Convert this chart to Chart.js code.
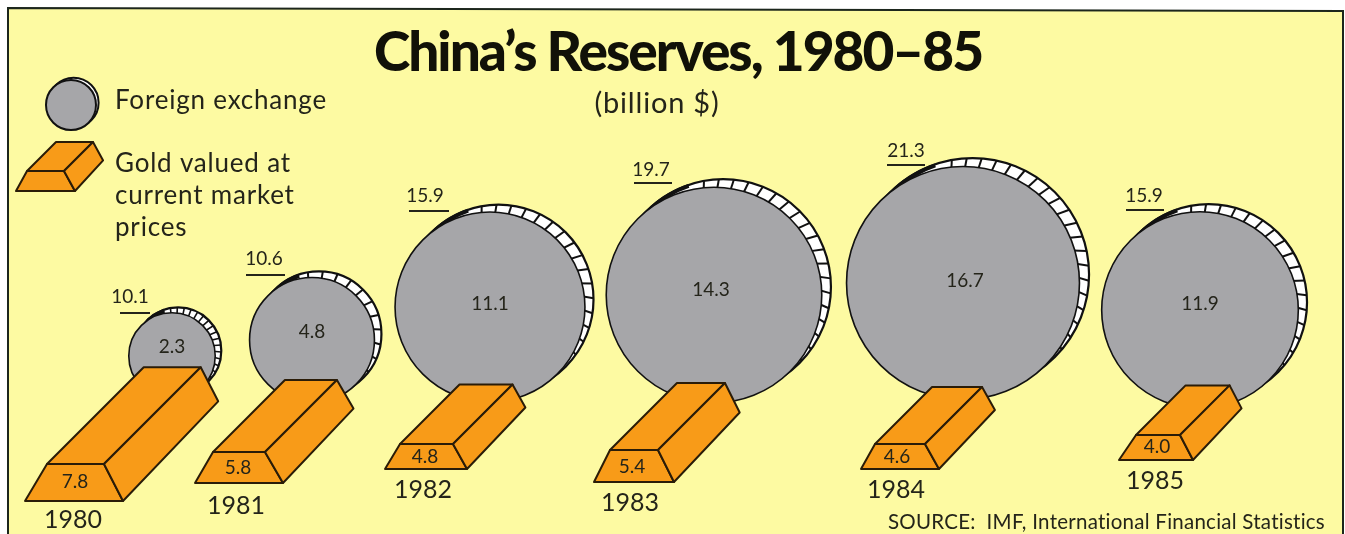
<!DOCTYPE html>
<html>
<head>
<meta charset="utf-8">
<title>China's Reserves, 1980-85</title>
<script src="https://cdn.jsdelivr.net/npm/chart.js@4"></script>
<style>
  html, body { margin: 0; padding: 0; background: #fff; }
  canvas { display: block; }
</style>
</head>
<body>
<canvas id="reserves" width="1345" height="534"></canvas>
<script>
const years = ['1980', '1981', '1982', '1983', '1984', '1985'];
const foreignExchange = [2.3, 4.8, 11.1, 14.3, 16.7, 11.9];
const gold = [7.8, 5.8, 4.8, 5.4, 4.6, 4.0];
const totals = [10.1, 10.6, 15.9, 19.7, 21.3, 15.9];

// where each year's coin and ingot sit on the page
const coinX = [172, 312, 490, 714, 963, 1200];
const coinY = [356, 340, 307, 295, 283, 310];
const barX = [47, 213, 400, 610, 875, 1136];
const barY = [464, 452, 444, 450, 444, 435];

// ingot front face: inset of top edge, top width, bottom width, height
const barInset = [22, 18, 15, 16, 14, 17];
const barTop = [57, 52, 53, 48, 50, 44];
const barBottom = [98, 88, 82, 80, 78, 74];
const barHeight = [37, 31, 25, 32, 25, 25];

const totalPos = [[130, 297], [264, 259], [425, 196], [651, 170], [906, 151], [1144, 196]];
const totalRule = [[120, 150, 313], [246, 285, 275], [409, 449, 211], [634, 672, 183], [887, 925, 165], [1126, 1164, 210]];
const coinLabelPos = [[172, 347], [312, 332], [490, 304], [711, 290], [965, 281], [1200, 304]];
const barLabelPos = [[75, 482], [238, 468], [425, 457], [632, 467], [897, 457], [1157, 447]];
const yearPos = [[73, 520], [236, 506], [423, 490], [630, 503], [896, 490], [1155, 481]];

const INK = '#24241a';
const PAPER = '#fdfaa2';
const GREY = '#a6a6a9';
const ORANGE = '#f89b18';
const BODY_FONT = 'Lato, "Open Sans", sans-serif';

// coin area and ingot length both follow the value
const coinRadius = v => 28.5 * Math.sqrt(v);
const barLength = v => 12.4 * v;
const rimShift = r => 5 + r * 0.06;

function text(ctx, str, x, y, size, opts) {
    opts = opts || {};
    ctx.save();
    ctx.font = (opts.weight || '400') + ' ' + size + 'px ' + (opts.family || BODY_FONT);
    ctx.fillStyle = opts.color || INK;
    ctx.textAlign = opts.align || 'center';
    ctx.textBaseline = opts.baseline || 'middle';
    ctx.letterSpacing = opts.spacing || '0px';
    ctx.fillText(str, x, y);
    ctx.restore();
}

// draws one ingot from its front top-left corner
function drawBar(ctx, x, y, inset, top, bottom, height, length) {
    const rise = length;
    const ftl = [x, y];
    const ftr = [x + top, y];
    const fbl = [x - inset, y + height];
    const fbr = [x - inset + bottom, y + height];
    const btl = [x + length, y - rise];
    const btr = [x + length + top, y - rise];
    const br = [btr[0] + (fbr[0] - ftr[0]) * 0.92, btr[1] + (fbr[1] - ftr[1]) * 0.92];

    ctx.save();
    ctx.lineJoin = 'round';
    ctx.lineWidth = 2;
    ctx.strokeStyle = '#2a1c08';
    ctx.fillStyle = ORANGE;
    [[fbl, fbr, ftr, ftl], [ftl, ftr, btr, btl], [ftr, fbr, br, btr]].forEach(face => {
        ctx.beginPath();
        ctx.moveTo(face[0][0], face[0][1]);
        face.slice(1).forEach(p => ctx.lineTo(p[0], p[1]));
        ctx.closePath();
        ctx.fill();
        ctx.stroke();
    });
    ctx.restore();
}

// ridges across the rim, the coin face hides their inner ends
function drawRidges(ctx, x, y, r) {
    const step = r < 60 ? 7 / r : 15 / r;
    ctx.save();
    ctx.strokeStyle = '#111';
    ctx.lineWidth = r < 60 ? 1.6 : 2;
    for (let a = -1.8; a < 0.72; a += step) {
        ctx.beginPath();
        ctx.moveTo(x + Math.cos(a + 0.05) * r, y + Math.sin(a + 0.05) * r);
        ctx.lineTo(x + Math.cos(a) * (r - 20), y + Math.sin(a) * (r - 20));
        ctx.stroke();
    }
    // the rim closes up into a solid edge at its upper left end
    ctx.lineWidth = 4;
    ctx.beginPath();
    ctx.arc(x, y, r - 1, -2.7, -1.9);
    ctx.stroke();
    ctx.restore();
}

function drawCoin(ctx, x, y, r) {
    const s = rimShift(r) * 0.5;
    ctx.save();
    ctx.strokeStyle = '#111';
    ctx.lineWidth = 2;
    ctx.fillStyle = '#fff';
    ctx.beginPath();
    ctx.arc(x + s * 0.8, y - s * 0.7, r, 0, Math.PI * 2);
    ctx.fill();
    ctx.stroke();
    ctx.fillStyle = GREY;
    ctx.beginPath();
    ctx.arc(x, y, r, 0, Math.PI * 2);
    ctx.fill();
    ctx.stroke();
    ctx.restore();
}

const pagePlugin = {
    id: 'page',
    beforeDraw(chart) {
        const ctx = chart.ctx;
        ctx.save();
        ctx.fillStyle = '#fff';
        ctx.fillRect(0, 0, chart.width, chart.height);
        ctx.beginPath();
        ctx.moveTo(8, 8);
        ctx.lineTo(1343, 11);
        ctx.lineTo(1343, 536);
        ctx.lineTo(8, 536);
        ctx.closePath();
        ctx.fillStyle = PAPER;
        ctx.fill();
        ctx.strokeStyle = '#1c261c';
        ctx.lineWidth = 2;
        ctx.stroke();
        ctx.restore();
    },
    afterDatasetDraw(chart, args) {
        if (chart.data.datasets[args.index].label === 'Rim') {
            args.meta.data.forEach(el => drawRidges(chart.ctx, el.x, el.y, el.options.radius));
        }
    },
    afterDatasetsDraw(chart) {
        const ctx = chart.ctx;
        chart.getDatasetMeta(0).data.forEach((el, i) => {
            drawBar(ctx, el.x, el.y, barInset[i], barTop[i], barBottom[i], barHeight[i], barLength(gold[i]));
        });

        years.forEach((year, i) => {
            text(ctx, totals[i].toFixed(1), totalPos[i][0], totalPos[i][1], 19);
            ctx.save();
            ctx.strokeStyle = INK;
            ctx.lineWidth = 2;
            ctx.beginPath();
            ctx.moveTo(totalRule[i][0], totalRule[i][2]);
            ctx.lineTo(totalRule[i][1], totalRule[i][2]);
            ctx.stroke();
            ctx.restore();
            text(ctx, foreignExchange[i].toFixed(1), coinLabelPos[i][0], coinLabelPos[i][1], 19);
            text(ctx, gold[i].toFixed(1), barLabelPos[i][0], barLabelPos[i][1], 19);
            text(ctx, year, yearPos[i][0], yearPos[i][1], 25);
        });

        // heading
        text(ctx, 'China\u2019s Reserves, 1980\u201385', 678, 71, 55,
            { weight: '900', color: '#111108', baseline: 'alphabetic', spacing: '-2px' });
        text(ctx, '(billion $)', 657, 104, 29, { spacing: '0.8px' });

        // key
        drawCoin(ctx, 71, 105, 25);
        drawBar(ctx, 27, 171, 11, 37, 59, 20, 29);
        text(ctx, 'Foreign exchange', 115, 101, 26, { align: 'left', spacing: '0.8px' });
        text(ctx, 'Gold valued at', 115, 164, 26, { align: 'left', spacing: '0.8px' });
        text(ctx, 'current market', 115, 196, 26, { align: 'left', spacing: '0.8px' });
        text(ctx, 'prices', 115, 228, 26, { align: 'left', spacing: '0.8px' });

        text(ctx, 'SOURCE:  IMF, International Financial Statistics', 1325, 522, 20.5, { align: 'right', spacing: '0.25px' });
    }
};

const coinPoints = foreignExchange.map((v, i) => ({ x: coinX[i], y: coinY[i], r: coinRadius(v) }));
const rimPoints = foreignExchange.map((v, i) => {
    const r = coinRadius(v);
    return { x: coinX[i] + rimShift(r) * 0.8, y: coinY[i] - rimShift(r) * 0.7, r: r };
});
const barPoints = gold.map((v, i) => ({ x: barX[i], y: barY[i] }));

new Chart(document.getElementById('reserves').getContext('2d'), {
    type: 'bubble',
    data: {
        labels: years,
        datasets: [
            { type: 'scatter', label: 'Gold valued at current market prices', data: barPoints, pointRadius: 0 },
            { label: 'Foreign exchange', data: coinPoints, backgroundColor: GREY, borderColor: '#111', borderWidth: 1.6 },
            { label: 'Rim', data: rimPoints, backgroundColor: '#fff', borderColor: '#111', borderWidth: 2.2 }
        ]
    },
    options: {
        responsive: false,
        animation: false,
        events: [],
        layout: { padding: 0, autoPadding: false },
        plugins: { legend: { display: false }, tooltip: { enabled: false } },
        scales: {
            x: { type: 'linear', display: false, min: 0, max: 1345 },
            y: { type: 'linear', display: false, min: 0, max: 534, reverse: true }
        }
    },
    plugins: [pagePlugin]
});
</script>
</body>
</html>
